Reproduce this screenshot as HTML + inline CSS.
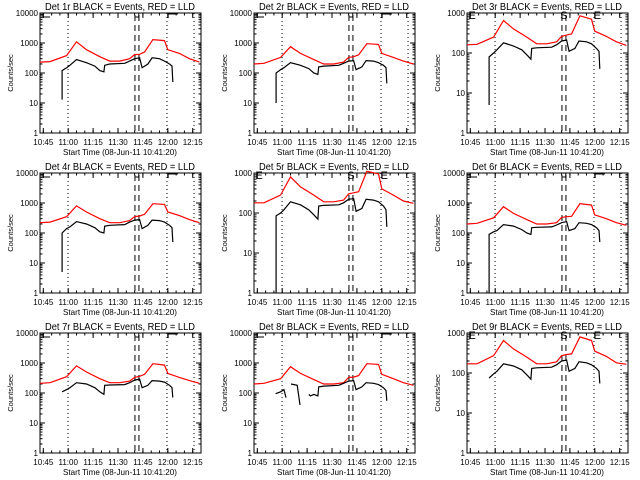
<!DOCTYPE html>
<html><head><meta charset="utf-8">
<style>html,body{margin:0;padding:0;background:#fff;}svg{display:block;font-family:"Liberation Sans",sans-serif;}</style>
</head><body>
<svg id="c" width="640" height="480" viewBox="0 0 640 480">
<rect width="640" height="480" fill="#fff"/>
</svg>
<script>
// minutes since 10:43
const redT = [0,6,16,22,28,36,42,48,54,57,60,63,68,75,77,84,90,96];
const blackT = [13.3,13.3,16,18,22,28,33,36,38.5,39,42,51,54,57,60,61.5,65,67.5,72,75,78,79.5,80];
const blackT8 = [13,16,18,19.3,19.4,22.3,26,27.7,27.8,33,34,36,38.5,39,42,51,54,57,60,61.5,65,67.5,72,75,78,79.5,80];
const detLabels = ["1r","2r","3r","4r","5r","6r","7r","8r","9r"];
const decades = [4,4,3,4,3,4,4,4,3];
const red1 = [230,240,380,1100,600,350,250,250,300,410,420,500,1300,1200,600,450,300,230];
const red2 = [200,210,330,750,450,280,200,200,230,330,350,400,950,900,450,330,250,200];
const red3 = [160,165,250,650,400,250,170,170,190,260,280,300,850,700,350,260,190,155];
const red4 = [220,230,350,800,500,300,220,220,260,350,370,420,950,900,500,380,280,220];
const red5 = [180,180,280,800,450,280,190,190,210,300,320,340,1100,950,400,280,200,175];
const red6 = [200,210,320,750,450,280,200,200,220,330,350,360,950,850,400,300,220,180];
const red7 = [210,220,350,800,500,300,220,220,250,330,360,420,950,850,450,330,260,210];
const red8 = [200,210,300,750,450,280,200,200,220,330,340,380,950,900,420,300,220,180];
const red9 = [170,170,270,650,400,250,170,170,190,270,290,300,800,650,350,260,180,165];
const black1 = [13,120,150,180,280,220,170,120,110,180,200,210,250,300,320,150,200,320,300,250,200,170,50];
const black2 = [10,100,130,150,220,180,140,100,90,160,170,180,210,250,260,130,160,260,250,220,180,150,45];
const black3 = [5,80,100,120,180,150,120,90,70,130,135,140,160,200,210,110,130,200,190,170,130,110,40];
const black4 = [5,100,140,160,240,200,150,110,100,170,180,190,230,270,280,140,180,270,260,230,180,150,50];
const black5 = [1,85,100,120,190,160,120,90,70,150,155,160,180,220,230,110,130,220,210,190,150,120,45];
const black6 = [1,90,110,120,190,170,130,100,90,150,155,160,185,220,240,120,140,220,210,190,150,120,50];
const black7 = [null,110,130,150,220,200,150,110,90,180,185,190,220,270,290,150,180,260,250,230,180,150,70];
const black8 = [95,110,130,70,null,200,180,40,null,90,80,90,80,160,170,180,210,250,260,130,160,220,210,190,150,120,55];
const black9 = [null,75,95,110,170,150,120,90,70,130,135,140,160,200,210,110,130,190,180,160,130,110,55];
const xTickT = [2,17,32,47,62,77,92];
const xTickLabels = ["10:45","11:00","11:15","11:30","11:45","12:00","12:15"];
const dottedT = [16.9,76.5,92.8];
const dashedT = [57.2,59.6];

const reds=[red1,red2,red3,red4,red5,red6,red7,red8,red9];
const blacks=[black1,black2,black3,black4,black5,black6,black7,black8,black9];
const NS="http://www.w3.org/2000/svg";
const svg=document.getElementById('c');
function mk(tag,attrs,parent){const e=document.createElementNS(NS,tag);for(const k in attrs)e.setAttribute(k,attrs[k]);(parent||svg).appendChild(e);return e;}

for(let p=0;p<9;p++){
  const col=p%3,row=Math.floor(p/3);
  const ox=Math.round(col*213.5), oy=row*160;
  const x0=ox+40,x1=ox+201,y0=oy+13,y1=oy+133;
  const nd=decades[p];
  const X=t=>x0+t*1.66;
  const Y=v=>y1-Math.log10(v)*(y1-y0)/nd;
  const g=mk('g',{});
  
  
  const title=mk('text',{x:ox+120,y:oy+10,'font-size':10,'text-anchor':'middle',textLength:150,lengthAdjust:'spacingAndGlyphs'},g);
  title.textContent='Det '+detLabels[p]+' BLACK = Events, RED = LLD';
  
  
  // frame
  const fr=mk('rect',{x:x0,y:y0,width:x1-x0,height:y1-y0,fill:'none',stroke:'#000','stroke-width':1},g);
  
  
  // y ticks
  for(let d=0;d<=nd;d++){
    const y=Y(Math.pow(10,d));
    mk('line',{x1:x0,x2:x0+5,y1:y,y2:y,stroke:'#000'},g);
    mk('line',{x1:x1,x2:x1-5,y1:y,y2:y,stroke:'#000'},g);
    const tl=mk('text',{x:x0-2,y:y+3,'font-size':8,'text-anchor':'end'},g);
    tl.textContent=String(Math.pow(10,d));
    
    
    if(d<nd){for(let m=2;m<10;m++){const ym=Y(m*Math.pow(10,d));
      mk('line',{x1:x0,x2:x0+2.5,y1:ym,y2:ym,stroke:'#000'},g);
      mk('line',{x1:x1,x2:x1-2.5,y1:ym,y2:ym,stroke:'#000'},g);}}
  }
  // x ticks
  xTickT.forEach((t,i)=>{
    const x=X(t);
    mk('line',{x1:x,x2:x,y1:y1,y2:y1-5,stroke:'#000'},g);
    mk('line',{x1:x,x2:x,y1:y0,y2:y0+5,stroke:'#000'},g);
    const tl=mk('text',{x:x,y:oy+145,'font-size':8,'text-anchor':'middle'},g);
    tl.textContent=xTickLabels[i];
    
    
  });
  for(let t=-3;t<=97;t+=5){if(t<0)continue;const x=X(t);
    mk('line',{x1:x,x2:x,y1:y1,y2:y1-2.5,stroke:'#000'},g);
    mk('line',{x1:x,x2:x,y1:y0,y2:y0+2.5,stroke:'#000'},g);}
  const xl=mk('text',{x:ox+120,y:oy+155,'font-size':8.5,'text-anchor':'middle',textLength:114,lengthAdjust:'spacingAndGlyphs'},g);
  xl.textContent='Start Time (08-Jun-11 10:41:20)';
  
  
  const yl=mk('text',{x:0,y:0,'font-size':7.5,'text-anchor':'middle',transform:`translate(${ox+13},${oy+73}) rotate(-90)`},g);
  yl.textContent='Counts/sec';
  
  
  // dotted / dashed lines
  dottedT.forEach(t=>{const l=mk('line',{x1:X(t),x2:X(t),y1:y0,y2:y1,stroke:'#000','stroke-dasharray':'1,3'},g);
    });
  dashedT.forEach(t=>{const l=mk('line',{x1:X(t),x2:X(t),y1:y0+2,y2:y1,stroke:'#000','stroke-dasharray':'6,4'},g);
    });
  // top markers
  if(nd===4){
    mk('path',{d:`M${x0+3},${y0} V${y0+4} H${x0+10}`,fill:'none',stroke:'#000'},g);
    mk('path',{d:`M${X(57.5)},${y0+4} H${X(59.5)} V${y0}`,fill:'none',stroke:'#000'},g);
    mk('path',{d:`M${X(77.2)},${y0+5} V${y0+1} H${X(83)}`,fill:'none',stroke:'#000'},g);
  } else {
    [[x0+5,'E'],[X(58.4),'S'],[X(78.5),'E']].forEach(([x,s])=>{const t=mk('text',{x:x,y:y0+6,'font-size':11,'text-anchor':'middle'},g);t.textContent=s;
      });
  }
  // series
  function pathFor(ts,vs){let d='',pen=false;
    for(let i=0;i<ts.length;i++){const v=vs[i];if(v===null||v===undefined){pen=false;continue;}
      d+=(pen?'L':'M')+X(ts[i]).toFixed(1)+','+Y(v).toFixed(1)+' ';pen=true;}return d;}
  const rp=mk('path',{d:pathFor(redT,reds[p]),fill:'none',stroke:'#ff0000','stroke-width':1.2},g);
  
  
  const bp=mk('path',{d:pathFor(p===7?blackT8:blackT,blacks[p]),fill:'none',stroke:'#000','stroke-width':1.2},g);
  
  
}
</script>
</body></html>
